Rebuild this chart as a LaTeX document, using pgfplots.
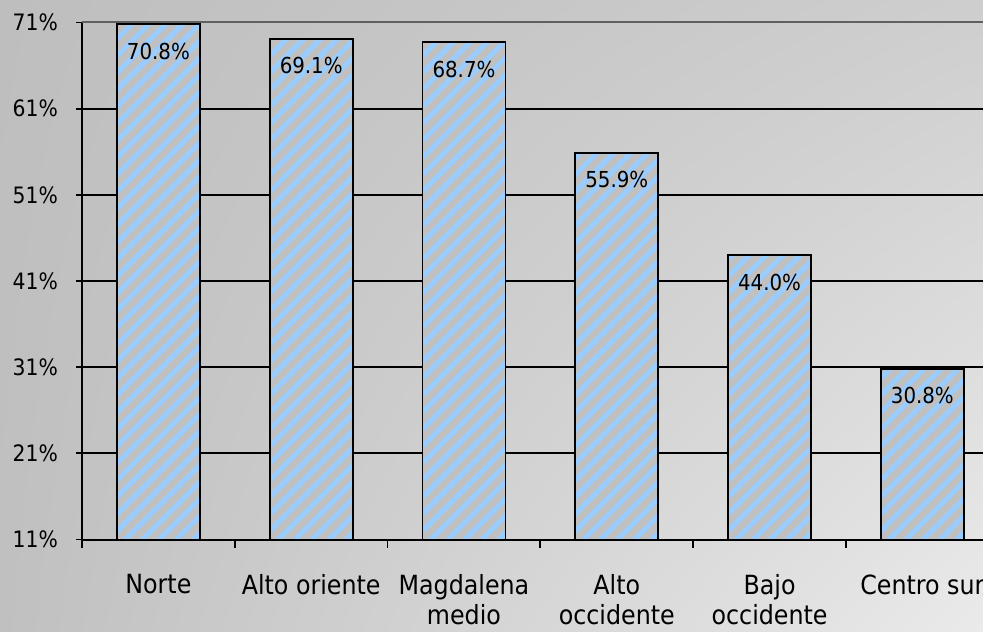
\documentclass[border=0pt]{standalone}
\usepackage{pgfplots}
\pgfplotsset{compat=1.18}
\usepackage{fontspec}
\setmainfont{DejaVu Sans Condensed}
\usetikzlibrary{patterns.meta, shadings}

\definecolor{barGray}{HTML}{C0C0C0}
\definecolor{hatchBlue}{HTML}{99CCFF}
\definecolor{bgUL}{RGB}{190,190,190}
\definecolor{bgUR}{RGB}{206,206,206}
\definecolor{bgLL}{RGB}{192,192,192}
\definecolor{bgLR}{RGB}{234,234,234}

\begin{document}
\begin{tikzpicture}
  % background gradient
  \shade[upper left=bgUL, upper right=bgUR, lower left=bgLL, lower right=bgLR]
    (-41pt,-45.75pt) rectangle (450.5pt,269.75pt);
  \begin{axis}[
      scale only axis,
      width=450.5pt,
      height=258.5pt,
      anchor=south west,
      at={(0,0)},
      xmin=-0.5, xmax=5.397,
      ymin=11, ymax=71,
      axis x line*=bottom,
      axis y line*=left,
      axis line style={black, line width=1pt},
      xtick={0,1,2,3,4,5},
      xticklabels={Norte, Alto oriente, {Magdalena\\medio}, {Alto\\occidente}, {Bajo\\occidente}, Centro sur},
      major x tick style={draw=none},
      minor xtick={-0.5,0.5,1.5,2.5,3.5,4.5},
      minor tick length=4pt,
      major tick length=3pt,
      tick align=outside,
      tick style={black, line width=0.9pt},
      x tick label style={font=\fontsize{13.2}{14.8}\selectfont, align=center, yshift=-11pt},
      ytick={11,21,31,41,51,61},
      extra y ticks={71},
      extra y tick style={grid style={gray!75!black, line width=1pt}},
      yticklabel={\pgfmathprintnumber{\tick}\%},
      y tick label style={font=\fontsize{11.3}{13}\selectfont, xshift=-5.5pt},
      /pgf/number format/assume math mode=true,
      ymajorgrids=true,
      grid style={black, line width=1pt},
      clip=true,
    ]
    \addplot[ybar, bar width=41.5pt, fill=barGray, draw=black, line width=0.9pt,
      postaction={pattern={Lines[angle=45, distance=6pt, line width=2.5pt]}, pattern color=hatchBlue},
      nodes near coords={\pgfmathprintnumber[fixed, fixed zerofill, precision=1]{\pgfplotspointmeta}\%},
      every node near coord/.append style={font=\fontsize{11}{13}\selectfont, color=black, anchor=center, yshift=-13.5pt},
    ] coordinates {
      (0,70.8)
      (1,69.1)
      (2,68.7)
      (3,55.9)
      (4,44.0)
      (5,30.8)
    };
  \end{axis}
  \pgfresetboundingbox
  \path[use as bounding box] (-41pt,-45.75pt) rectangle (450.5pt,269.75pt);
\end{tikzpicture}
\end{document}
